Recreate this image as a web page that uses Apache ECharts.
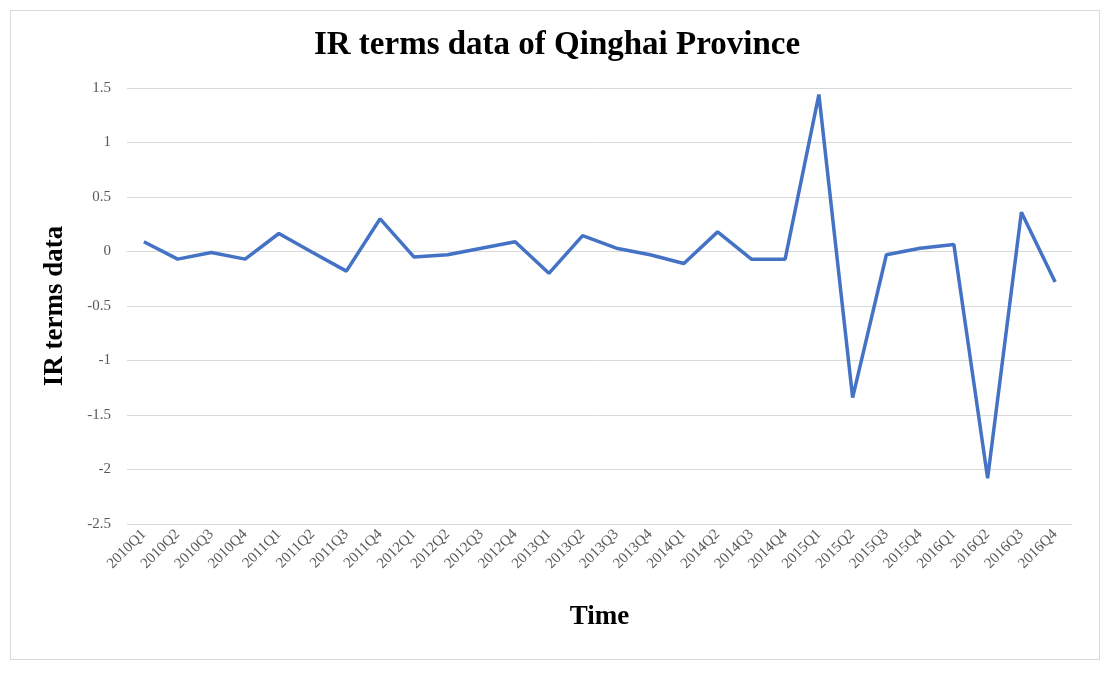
<!DOCTYPE html>
<html>
<head>
<meta charset="utf-8">
<script src="https://cdn.jsdelivr.net/npm/echarts@6/dist/echarts.min.js"></script>
<style>
  html, body { margin: 0; padding: 0; background: #fff; }
  #frame { position: absolute; left: 10px; top: 10px; width: 1090px; height: 650px; border: 1px solid #d9d9d9; box-sizing: border-box; }
  #chart { width: 1114px; height: 674px; }
</style>
</head>
<body>
<div id="frame"></div>
<div id="chart"></div>
<script>
// quarters 2010Q1 .. 2016Q4
var quarters = [];
var years = [2010, 2011, 2012, 2013, 2014, 2015, 2016];
years.forEach(function (y) {
    for (var q = 1; q <= 4; q++) quarters.push(y + 'Q' + q);
});

var irValues = [
    0.09, -0.07, -0.01, -0.07,
    0.165, -0.01, -0.18, 0.30,
    -0.05, -0.03, 0.03, 0.09,
    -0.20, 0.145, 0.03, -0.03,
    -0.11, 0.18, -0.07, -0.07,
    1.44, -1.34, -0.03, 0.03,
    0.065, -2.08, 0.36, -0.28
];

var serif = '"Liberation Serif", "Times New Roman", serif';

var chart = echarts.init(document.getElementById('chart'));
chart.setOption({
    animation: false,
    title: {
        text: 'IR terms data of Qinghai Province',
        left: 'center',
        top: 24,
        textStyle: { fontFamily: serif, fontSize: 33, fontWeight: 'bold', color: '#000' }
    },
    grid: { left: 127, right: 42, top: 88, bottom: 150 },
    xAxis: {
        type: 'category',
        data: quarters,
        name: 'Time',
        nameLocation: 'middle',
        nameGap: 80,
        nameTextStyle: { fontFamily: serif, fontSize: 27, fontWeight: 'bold', color: '#000' },
        axisLine: { lineStyle: { color: '#d9d9d9' } },
        axisTick: { show: false },
        axisLabel: { rotate: 45, interval: 0, fontFamily: serif, fontSize: 15, color: '#595959' }
    },
    yAxis: {
        type: 'value',
        min: -2.5,
        max: 1.5,
        interval: 0.5,
        name: 'IR terms data',
        nameLocation: 'middle',
        nameGap: 58,
        nameTextStyle: { fontFamily: serif, fontSize: 27, fontWeight: 'bold', color: '#000' },
        axisLine: { show: false },
        axisTick: { show: false },
        splitLine: { lineStyle: { color: '#d9d9d9' } },
        axisLabel: { fontFamily: serif, fontSize: 15, color: '#595959', margin: 16 }
    },
    series: [{
        type: 'line',
        data: irValues,
        showSymbol: false,
        lineStyle: { color: '#4472c4', width: 3.5 }
    }]
});
</script>
</body>
</html>
